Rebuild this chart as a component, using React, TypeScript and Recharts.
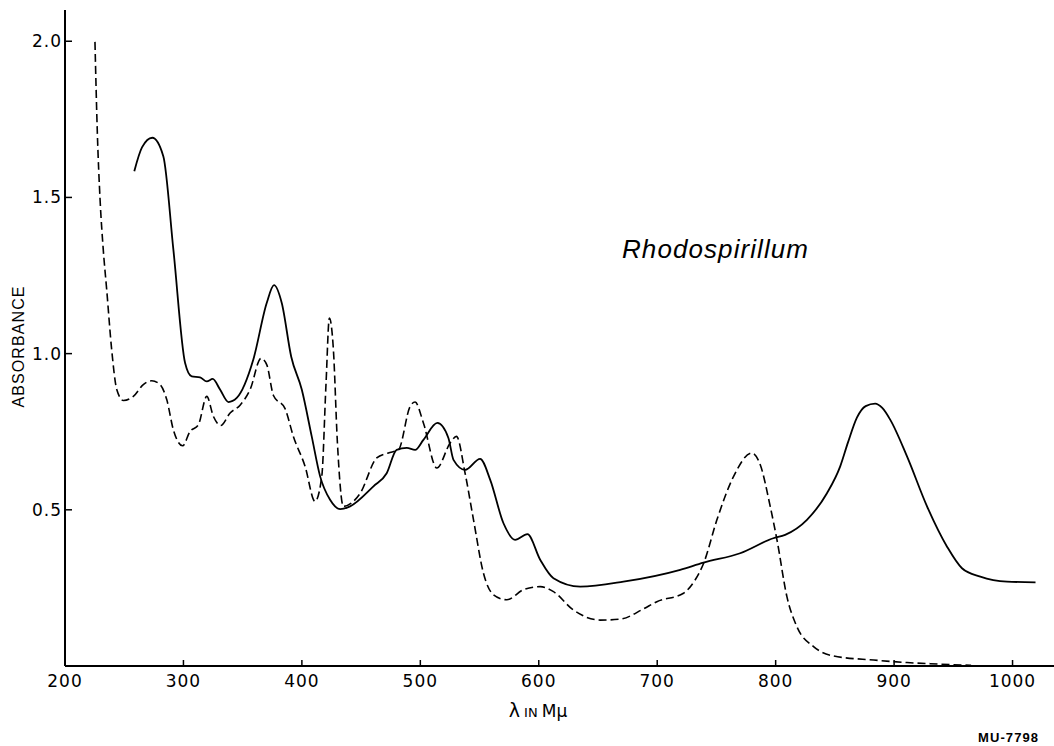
import React from 'react'
import { LineChart, Line, XAxis, YAxis } from 'recharts'

// wavelength (m\u03bc) and absorbance
const solidWavelength = [
  258.5, 265, 273.7, 283, 291.5, 301.4, 307, 314, 319.7, 324.7, 330.9, 338, 345, 359, 370.3, 376.5,
  383, 391, 399.9, 408.3, 415.4, 423.8, 432.3, 440.7, 460.4, 471.6, 480, 488.6, 495.6, 502.6, 514.4,
  523.7, 528, 537.8, 550.5, 559, 570.2, 580, 590.4, 601.2, 612.4, 635, 671.5, 719.4, 739, 770, 798,
  808, 826.4, 843.3, 854.5, 861, 868.6, 876, 884, 890, 896.8, 910.9, 927.8, 944.7, 957.3, 972.8, 995.3, 1019.4,
]
const solidAbsorbance = [
  1.584, 1.66, 1.691, 1.632, 1.333, 0.97, 0.927, 0.924, 0.911, 0.919, 0.885, 0.845, 0.858, 0.981, 1.162, 1.219,
  1.162, 0.99, 0.885, 0.735, 0.607, 0.532, 0.502, 0.511, 0.575, 0.617, 0.692, 0.698, 0.692, 0.724, 0.778,
  0.73, 0.66, 0.628, 0.663, 0.596, 0.457, 0.404, 0.422, 0.34, 0.281, 0.254, 0.27, 0.308, 0.331, 0.361, 0.409,
  0.42, 0.468, 0.553, 0.639, 0.715, 0.795, 0.832, 0.84, 0.826, 0.788, 0.671, 0.511, 0.382, 0.313, 0.286, 0.27, 0.268,
]

const dashedWavelength = [
  225.3, 227.3, 229.6, 232.3, 235.2, 239.4, 243.7, 249.3, 257.7, 266.1, 273.2, 280.2, 285.9, 291.5, 299.3,
  305.6, 312.6, 319.7, 325.3, 331.4, 339.4, 347.8, 356.3, 365.5, 370.3, 376, 385.8, 392.8, 402.7, 411.1,
  416.8, 420.4, 423.2, 426.6, 430, 435, 449.2, 463.2, 473, 481.5, 491.4, 495.6, 502.6, 513.9, 525.2, 530.5,
  537.8, 544.9, 553.3, 561.8, 573, 587, 601.2, 612.4, 629.3, 651.9, 668.8, 688, 699.7, 722.2, 732.1, 739.2,
  750.4, 764.5, 779.9, 787, 795.4, 801.1, 809.5, 817.9, 832, 849, 882.7, 910.9, 939, 965,
]
const dashedAbsorbance = [
  1.998, 1.707, 1.494, 1.333, 1.205, 1.013, 0.885, 0.85, 0.863, 0.901, 0.913, 0.901, 0.853, 0.756, 0.705,
  0.751, 0.772, 0.863, 0.799, 0.77, 0.81, 0.835, 0.885, 0.985, 0.965, 0.866, 0.824, 0.735, 0.639, 0.527,
  0.607, 0.906, 1.114, 1.013, 0.714, 0.511, 0.553, 0.666, 0.682, 0.692, 0.831, 0.845, 0.778, 0.634, 0.714, 0.735,
  0.617, 0.468, 0.297, 0.228, 0.212, 0.244, 0.254, 0.238, 0.179, 0.147, 0.15, 0.182, 0.206, 0.233, 0.276, 0.329,
  0.468, 0.607, 0.682, 0.644, 0.511, 0.404, 0.222, 0.126, 0.062, 0.032, 0.019, 0.011, 0.006, 0.002,
]

const xTicks = [200, 300, 400, 500, 600, 700, 800, 900, 1000]
const yTicks = [0.5, 1.0, 1.5, 2.0]

const solidData = solidWavelength.map((x, i) => ({ x, y: solidAbsorbance[i] }))
const dashedData = dashedWavelength.map((x, i) => ({ x, y: dashedAbsorbance[i] }))

const tickFont = { fontFamily: 'DejaVu Sans', fontSize: 17, fill: '#000', letterSpacing: 1 }

const XTick = (props: any) => {
  const { x, y, payload } = props
  return (
    <g>
      <line x1={x} y1={y} x2={x} y2={y - 6} stroke="#000" strokeWidth={1.5} />
      <text x={x} y={y + 21} textAnchor="middle" {...tickFont}>{payload.value}</text>
    </g>
  )
}

const YTick = (props: any) => {
  const { x, y, payload } = props
  return (
    <g>
      <line x1={x} y1={y} x2={x + 7} y2={y} stroke="#000" strokeWidth={1.5} />
      <text x={x - 3} y={y + 6} textAnchor="end" {...tickFont}>{payload.value.toFixed(1)}</text>
    </g>
  )
}

export default function App() {
  return (
    <div style={{ position: 'absolute', left: 0, top: 0, width: 1054, height: 746, background: '#fff' }}>
      <LineChart width={1054} height={746} margin={{ top: 10, right: 0, left: 5, bottom: 50 }}>
        <XAxis
          dataKey="x"
          type="number"
          domain={[200, 1035]}
          ticks={xTicks}
          height={30}
          tickSize={0}
          tickMargin={0}
          tickLine={false}
          tick={<XTick />}
          axisLine={{ stroke: '#000', strokeWidth: 2 }}
          allowDataOverflow
        />
        <YAxis
          dataKey="y"
          type="number"
          domain={[0, 2.1]}
          ticks={yTicks}
          width={60}
          tickSize={0}
          tickMargin={0}
          tickLine={false}
          tick={<YTick />}
          axisLine={{ stroke: '#000', strokeWidth: 2 }}
          allowDataOverflow
        />
        <Line data={solidData} dataKey="y" type="monotone" stroke="#000" strokeWidth={1.8} dot={false} isAnimationActive={false} />
        <Line data={dashedData} dataKey="y" type="monotone" stroke="#000" strokeWidth={1.6} strokeDasharray="8 4" dot={false} isAnimationActive={false} />
      </LineChart>
      <svg width={1054} height={746} style={{ position: 'absolute', left: 0, top: 0, pointerEvents: 'none' }}>
        <text x={622} y={258} fontFamily="Liberation Sans" fontStyle="italic" fontSize={26} textLength={186} fill="#000">Rhodospirillum</text>
        <text x={24} y={347} transform="rotate(-90 24 347)" textAnchor="middle" fontFamily="Liberation Sans" fontSize={16} textLength={121} fill="#000">ABSORBANCE</text>
        <text x={538} y={717} textAnchor="middle" fontFamily="DejaVu Sans" fill="#000">
          <tspan fontSize={19}>λ</tspan>
          <tspan fontSize={13}> IN </tspan>
          <tspan fontSize={17}>Mμ</tspan>
        </text>
        <text x={1008} y={742} textAnchor="middle" fontFamily="Liberation Sans" fontWeight="bold" fontSize={13} textLength={60} fill="#000">MU-7798</text>
      </svg>
    </div>
  )
}
